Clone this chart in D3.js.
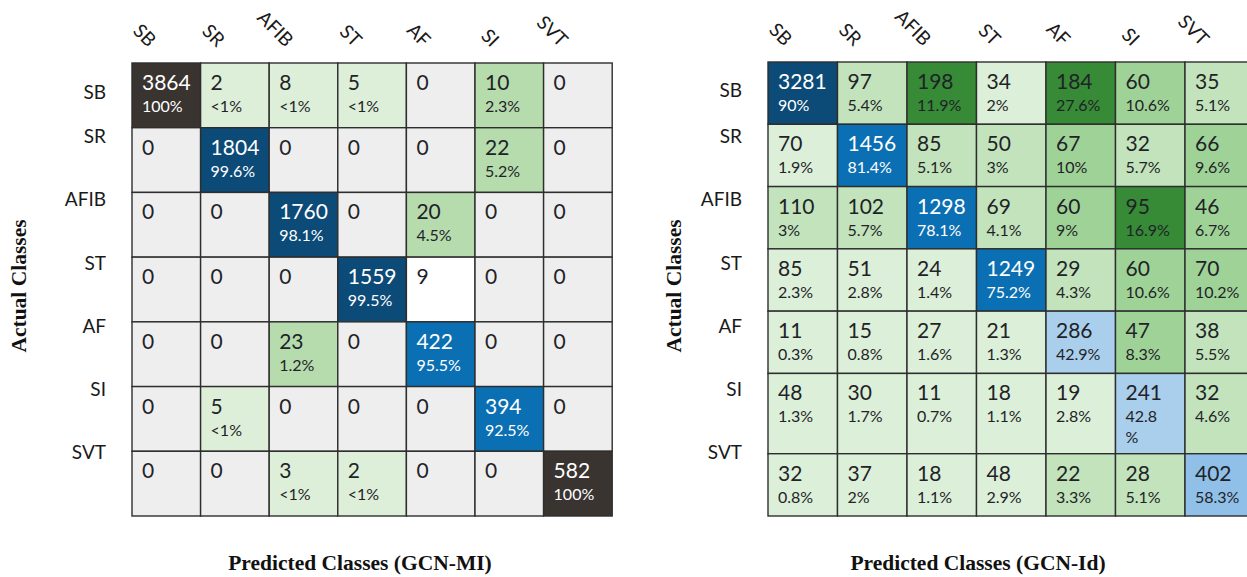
<!DOCTYPE html>
<html>
<head>
<meta charset="utf-8">
<script src="https://cdn.jsdelivr.net/npm/d3@7"></script>
<style>
  html, body { margin: 0; padding: 0; background: #ffffff; }
  svg { display: block; }
</style>
</head>
<body>
<svg id="chart" width="1247" height="577"></svg>
<script>
// Class labels shared by both confusion matrices (rows = actual, columns = predicted)
const classes = ["SB", "SR", "AFIB", "ST", "AF", "SI", "SVT"];

// GCN-MI: counts and column-normalised percentages ("" = not shown)
const countsMI = [
  [3864, 2, 8, 5, 0, 10, 0],
  [0, 1804, 0, 0, 0, 22, 0],
  [0, 0, 1760, 0, 20, 0, 0],
  [0, 0, 0, 1559, 9, 0, 0],
  [0, 0, 23, 0, 422, 0, 0],
  [0, 5, 0, 0, 0, 394, 0],
  [0, 0, 3, 2, 0, 0, 582]
];
const pctMI = [
  ["100%", "<1%", "<1%", "<1%", "", "2.3%", ""],
  ["", "99.6%", "", "", "", "5.2%", ""],
  ["", "", "98.1%", "", "4.5%", "", ""],
  ["", "", "", "99.5%", "", "", ""],
  ["", "", "1.2%", "", "95.5%", "", ""],
  ["", "<1%", "", "", "", "92.5%", ""],
  ["", "", "<1%", "<1%", "", "", "100%"]
];

// GCN-Id: counts and column-normalised percentages
const countsId = [
  [3281, 97, 198, 34, 184, 60, 35],
  [70, 1456, 85, 50, 67, 32, 66],
  [110, 102, 1298, 69, 60, 95, 46],
  [85, 51, 24, 1249, 29, 60, 70],
  [11, 15, 27, 21, 286, 47, 38],
  [48, 30, 11, 18, 19, 241, 32],
  [32, 37, 18, 48, 22, 28, 402]
];
const pctId = [
  ["90%", "5.4%", "11.9%", "2%", "27.6%", "10.6%", "5.1%"],
  ["1.9%", "81.4%", "5.1%", "3%", "10%", "5.7%", "9.6%"],
  ["3%", "5.7%", "78.1%", "4.1%", "9%", "16.9%", "6.7%"],
  ["2.3%", "2.8%", "1.4%", "75.2%", "4.3%", "10.6%", "10.2%"],
  ["0.3%", "0.8%", "1.6%", "1.3%", "42.9%", "8.3%", "5.5%"],
  ["1.3%", "1.7%", "0.7%", "1.1%", "2.8%", "42.8 %", "4.6%"],
  ["0.8%", "2%", "1.1%", "2.9%", "3.3%", "5.1%", "58.3%"]
];

const axisTitleY = "Actual Classes";
const titleMI = "Predicted Classes (GCN-MI)";
const titleId = "Predicted Classes (GCN-Id)";

// ---- styling ----
const CELL_FONT = "Lato, 'Open Sans', sans-serif";
const SERIF = "'Liberation Serif', 'Times New Roman', serif";
const GRID = "#2e2e2e";
const ZERO_FILL = "#eeeeee";
const DARK_TEXT = "#1f2328";

const pctValue = s => s.startsWith("<") ? 0.5 : parseFloat(s);

// colour scales per panel
const panels = [
  {
    counts: countsMI, pcts: pctMI, title: titleMI,
    left: 132, top: 63, colW: 68.6, height: 453,
    titleX: 360, yTitleX: 18,
    diag: d3.scaleThreshold().domain([97, 100]).range(["#0b6fb3", "#0c4a78", "#3a3431"]),
    off: d3.scaleThreshold().domain([1]).range(["#ddefd8", "#b6dcad"])
  },
  {
    counts: countsId, pcts: pctId, title: titleId,
    left: 768, top: 62, colW: 69.5, height: 454,
    titleX: 978, yTitleX: 673,
    diag: d3.scaleThreshold().domain([50, 70, 85]).range(["#a9cfec", "#90c0e8", "#0b6fb3", "#0c4a78"]),
    off: d3.scaleThreshold().domain([3, 6, 11]).range(["#dcefd9", "#c2e3bb", "#9fd297", "#378a36"])
  }
];

const svg = d3.select("#chart");
svg.append("rect").attr("width", 1247).attr("height", 577).attr("fill", "#ffffff");

const NUM_SIZE = 21, PCT_SIZE = 16, LABEL_SIZE = 19, TITLE_SIZE = 21.5, LINE_H = 18;

// shared row-label layout, derived from the first panel's grid
const firstRowH = panels[0].height / classes.length;
const labelY = d3.scalePoint()
  .domain(classes.slice(1))
  .range([panels[0].top + firstRowH + 9, panels[0].top + 6 * firstRowH + 1]);

panels.forEach(p => {
  const g = svg.append("g");
  const x = d3.scaleBand().domain(classes).range([p.left, p.left + p.colW * classes.length]);

  // row heights grow when a percentage label wraps onto extra lines
  const rowLines = p.pcts.map(row => d3.max(row, s => s ? s.split(" ").length + 1 : 1));
  const extra = d3.sum(rowLines, n => Math.max(0, n - 2));
  const baseH = (p.height - extra * LINE_H) / classes.length;
  const heights = rowLines.map(n => baseH + Math.max(0, n - 2) * LINE_H);
  const tops = heights.map((h, i) => p.top + d3.sum(heights.slice(0, i)));
  const y = d3.scaleOrdinal().domain(classes).range(tops);
  const h = d3.scaleOrdinal().domain(classes).range(heights);

  const cells = [];
  p.counts.forEach((row, r) => row.forEach((v, c) => {
    cells.push({ r, c, v, pct: p.pcts[r][c] });
  }));

  const fillOf = d => {
    if (d.r === d.c) return p.diag(pctValue(d.pct));
    if (d.v === 0) return ZERO_FILL;
    if (!d.pct) return "#ffffff";
    return p.off(pctValue(d.pct));
  };

  const cell = g.selectAll("g.cell").data(cells).join("g").attr("class", "cell");

  cell.append("rect")
    .attr("x", d => x(classes[d.c]))
    .attr("y", d => y(classes[d.r]))
    .attr("width", x.bandwidth())
    .attr("height", d => h(classes[d.r]))
    .attr("fill", fillOf)
    .attr("stroke", GRID)
    .attr("stroke-width", 1.4);

  const textColor = d => {
    const f = fillOf(d);
    return (d.r === d.c && d3.hsl(f).l < 0.5) ? "#ffffff" : DARK_TEXT;
  };

  cell.append("text")
    .attr("x", d => x(classes[d.c]) + 10)
    .attr("y", d => y(classes[d.r]) + 27)
    .attr("font-family", CELL_FONT)
    .attr("font-size", NUM_SIZE)
    .attr("fill", textColor)
    .text(d => d.v);

  cell.filter(d => d.pct).each(function (d) {
    const t = d3.select(this).append("text")
      .attr("font-family", CELL_FONT)
      .attr("font-size", PCT_SIZE)
      .attr("fill", textColor(d));
    d.pct.split(" ").forEach((line, k) => {
      t.append("tspan")
        .attr("x", x(classes[d.c]) + 10)
        .attr("y", y(classes[d.r]) + 49 + k * 21)
        .text(line);
    });
  });

  // predicted-class labels, rotated along the top edge
  g.selectAll("text.col").data(classes).join("text")
    .attr("class", "col")
    .attr("transform", d => `translate(${x(d) + 16},${p.top - 15}) rotate(45)`)
    .attr("text-anchor", "end")
    .attr("font-family", CELL_FONT)
    .attr("font-size", LABEL_SIZE)
    .attr("fill", "#1a1a1a")
    .text(d => d);

  // actual-class labels
  g.selectAll("text.row").data(classes).join("text")
    .attr("class", "row")
    .attr("x", p.left - 26)
    .attr("y", (d, i) => i === 0 ? y(d) + h(d) / 2 - 3 : labelY(d))
    .attr("dy", "0.35em")
    .attr("text-anchor", "end")
    .attr("font-family", CELL_FONT)
    .attr("font-size", LABEL_SIZE)
    .attr("fill", "#1a1a1a")
    .text(d => d);

  // axis titles
  g.append("text")
    .attr("transform", `translate(${p.yTitleX},286) rotate(-90)`)
    .attr("dy", "0.35em")
    .attr("text-anchor", "middle")
    .attr("font-family", SERIF)
    .attr("font-weight", "bold")
    .attr("font-size", TITLE_SIZE)
    .attr("fill", "#111")
    .text(axisTitleY);

  g.append("text")
    .attr("x", p.titleX)
    .attr("y", 570)
    .attr("text-anchor", "middle")
    .attr("font-family", SERIF)
    .attr("font-weight", "bold")
    .attr("font-size", TITLE_SIZE)
    .attr("fill", "#111")
    .text(p.title);
});
</script>
</body>
</html>
